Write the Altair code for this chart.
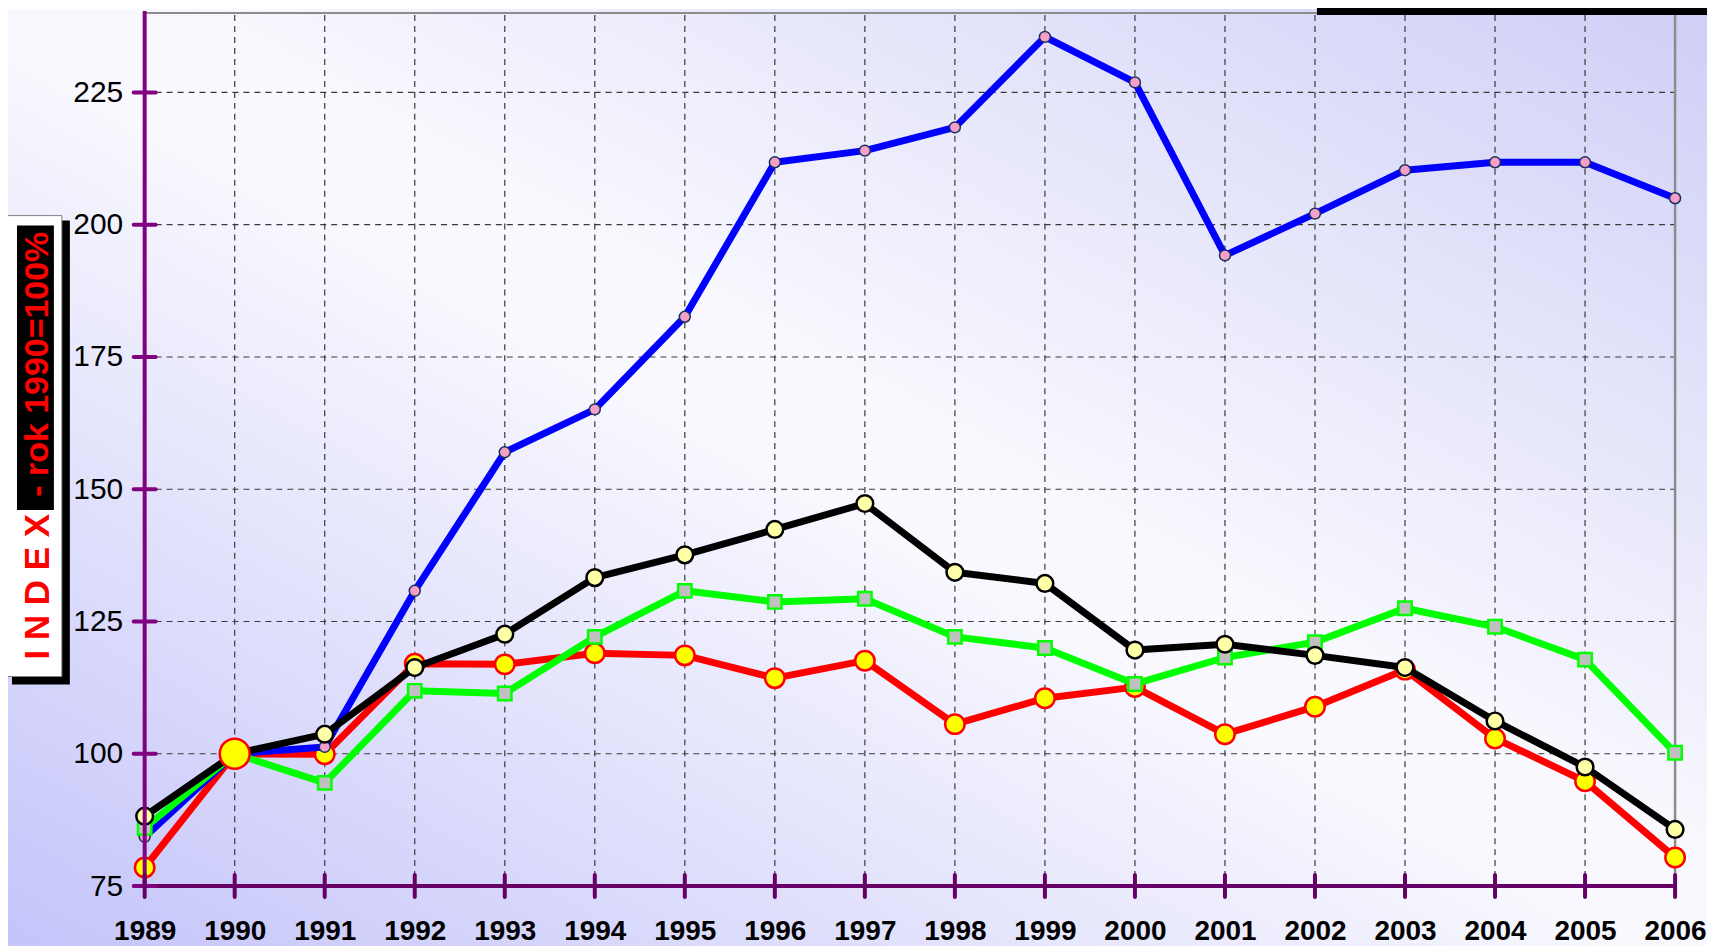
import altair as alt
import pandas as pd

# ---------------- data ----------------
years = list(range(1989, 2007))
blue_vals = [84.3, 100, 101.3, 130.8, 157.0, 165.1, 182.6, 211.8, 214.0, 218.4,
             235.5, 226.9, 194.2, 202.1, 210.3, 211.8, 211.8, 205.0]
black_vals = [88.2, 100, 103.7, 116.3, 122.6, 133.3, 137.6, 142.4, 147.3, 134.3,
              132.2, 119.6, 120.7, 118.6, 116.3, 106.2, 97.5, 85.7]
green_vals = [86.0, 100, 94.5, 111.9, 111.4, 122.1, 130.8, 128.7, 129.3, 122.1,
              120.0, 113.2, 118.2, 121.1, 127.5, 124.0, 117.8, 100.2]
red_vals = [78.5, 100, 99.9, 117.0, 116.9, 119.0, 118.6, 114.3, 117.6, 105.6,
            110.5, 112.6, 103.7, 108.9, 115.9, 102.9, 94.8, 80.4]
y_ticks = [75, 100, 125, 150, 175, 200, 225]
y_domain = [75, 240]
x_domain = [1989, 2006]
label_index = "I N D E X"
label_rest = "- rok 1990=100%"

# ---------------- layout ----------------
W, H = 1534, 875
PAD = {"left": 137, "top": 4, "right": 32, "bottom": 60}
FONT = "Liberation Sans"

xscale = alt.Scale(domain=x_domain, nice=False, zero=False)
yscale = alt.Scale(domain=y_domain, nice=False, zero=False)
xaxis = alt.Axis(values=years, format="d", labelFontSize=28, labelFontWeight="bold",
                 labelFont=FONT, labelColor="black", labelPadding=32, domain=False,
                 ticks=False, tickSize=0, grid=False, title=None, zindex=1,
                 labelFlush=False, labelOverlap=False)
yaxis = alt.Axis(values=y_ticks, labelFontSize=30, labelFont=FONT, labelColor="black",
                 labelPadding=22, domain=False, ticks=False, tickSize=0, grid=False,
                 title=None, zindex=1, labelOverlap=False)


def X(field="year"):
    return alt.X(f"{field}:Q", scale=xscale, axis=xaxis, title=None)


def Y(field="value"):
    return alt.Y(f"{field}:Q", scale=yscale, axis=yaxis, title=None)


one = pd.DataFrame({"k": [0]})
year_df = pd.DataFrame({"year": years})
inner_years = pd.DataFrame({"year": years[1:-1]})
ytick_df = pd.DataFrame({"value": y_ticks})
ygrid_df = pd.DataFrame({"value": y_ticks[1:]})
top_df = pd.DataFrame({"value": [y_domain[1]]})
right_df = pd.DataFrame({"year": [x_domain[1]]})
left_df = pd.DataFrame({"year": [x_domain[0]]})
bottom_df = pd.DataFrame({"value": [y_domain[0]]})

gradient = {
    "gradient": "linear", "x1": 0, "y1": 1, "x2": 1, "y2": 0,
    "stops": [
        {"offset": 0, "color": "#c4c4fa"},
        {"offset": 0.48, "color": "#f8f8fe"},
        {"offset": 0.55, "color": "#f8f8fe"},
        {"offset": 1, "color": "#cfcff7"},
    ],
}

bg = alt.Chart(one).mark_rect(fill=gradient, stroke=None).encode(
    x=alt.value(-PAD["left"]), x2=alt.value(W + PAD["right"]),
    y=alt.value(-PAD["top"]), y2=alt.value(H + PAD["bottom"]))

grid_v = alt.Chart(inner_years).mark_rule(color="#3a3a3a", strokeWidth=1.2,
                                          strokeDash=[6, 5]).encode(
    x=X(), y=alt.value(2), y2=alt.value(H))
grid_h = alt.Chart(ygrid_df).mark_rule(color="#3a3a3a", strokeWidth=1.2,
                                       strokeDash=[6, 5]).encode(
    y=Y(), x=alt.value(0), x2=alt.value(W))

border_top = alt.Chart(top_df).mark_rule(color="#8c8c8c", strokeWidth=2).encode(
    y=Y(), x=alt.value(0), x2=alt.value(W))
border_right = alt.Chart(right_df).mark_rule(color="#8c8c8c", strokeWidth=2.5).encode(
    x=X(), y=alt.value(0), y2=alt.value(H))

yaxis_line = alt.Chart(left_df).mark_rule(color="#800080", strokeWidth=4).encode(
    x=X(), y=alt.value(-2), y2=alt.value(H))
xaxis_line = alt.Chart(bottom_df).mark_rule(color="#660066", strokeWidth=4).encode(
    y=Y(), x=alt.value(-10), x2=alt.value(W))
yticks = alt.Chart(ytick_df).mark_rule(color="#800080", strokeWidth=4,
                                       strokeCap="round").encode(
    y=Y(), x=alt.value(-11), x2=alt.value(11))
xticks = alt.Chart(year_df).mark_rule(color="#660066", strokeWidth=4,
                                      strokeCap="round").encode(
    x=X(), y=alt.value(H - 11), y2=alt.value(H + 11))


def series(vals, line_color, shape, fill, stroke, sw, size):
    df = pd.DataFrame({"year": years, "value": vals})
    base = alt.Chart(df)
    ln = base.mark_line(color=line_color, strokeWidth=7, strokeJoin="round").encode(
        x=X(), y=Y())
    pt = base.mark_point(shape=shape, filled=True, fill=fill, stroke=stroke,
                         strokeWidth=sw, size=size, opacity=1).encode(x=X(), y=Y())
    return ln, pt, df


red_ln, red_pt, red_df = series(red_vals, "#ff0000", "circle", "#ffff00", "#ff0000", 2.5, 380)
blue_ln, blue_pt, _ = series(blue_vals, "#0000ff", "circle", "#f4a0c8", "#1a3060", 1.5, 120)
green_ln, green_pt, _ = series(green_vals, "#00ff00", "square", "#c0c0c0", "#00ff00", 2.5, 180)
black_ln, black_pt, _ = series(black_vals, "#000000", "circle", "#ffffa8", "#000000", 2.5, 280)

red_big = alt.Chart(red_df[red_df["year"] == 1990]).mark_point(
    shape="circle", filled=True, fill="#ffff00", stroke="#ff0000", strokeWidth=2.5,
    size=900, opacity=1).encode(x=X(), y=Y())

# left label box
shadow = alt.Chart(one).mark_rect(fill="black").encode(
    x=alt.value(-133), x2=alt.value(-75), y=alt.value(208), y2=alt.value(673))
box = alt.Chart(one).mark_rect(fill="white", stroke="#808080", strokeWidth=1).encode(
    x=alt.value(-138), x2=alt.value(-83), y=alt.value(203), y2=alt.value(665))
txt_bg = alt.Chart(one).mark_rect(fill="black").encode(
    x=alt.value(-128), x2=alt.value(-91), y=alt.value(213), y2=alt.value(498))
txt_rest = alt.Chart(one).mark_text(text=label_rest, angle=270, align="center",
                                    baseline="middle", font=FONT, fontWeight="bold",
                                    fontSize=34, color="#ff0000").encode(
    x=alt.value(-107), y=alt.value(352))
txt_index = alt.Chart(one).mark_text(text=label_index, angle=270, align="center",
                                     baseline="middle", font=FONT, fontWeight="bold",
                                     fontSize=35, color="#ff0000").encode(
    x=alt.value(-107), y=alt.value(575))

# legend remnant at top right
legend_bar = alt.Chart(one).mark_rect(fill="black").encode(
    x=alt.value(1175), x2=alt.value(W + PAD["right"]), y=alt.value(-6), y2=alt.value(2))

chart = alt.layer(
    bg, grid_v, grid_h, border_top, border_right,
    red_ln, red_pt, blue_ln, blue_pt, green_ln, green_pt, black_ln, black_pt,
    yaxis_line, xaxis_line, yticks, xticks,
    red_big,
    shadow, box, txt_bg, txt_rest, txt_index, legend_bar,
).properties(
    width=W, height=H, padding=PAD,
    autosize=alt.AutoSizeParams(type="none"),
    background="white",
).configure_view(stroke=None)

chart.save("out.html", embed_options={"renderer": "svg", "actions": False})
